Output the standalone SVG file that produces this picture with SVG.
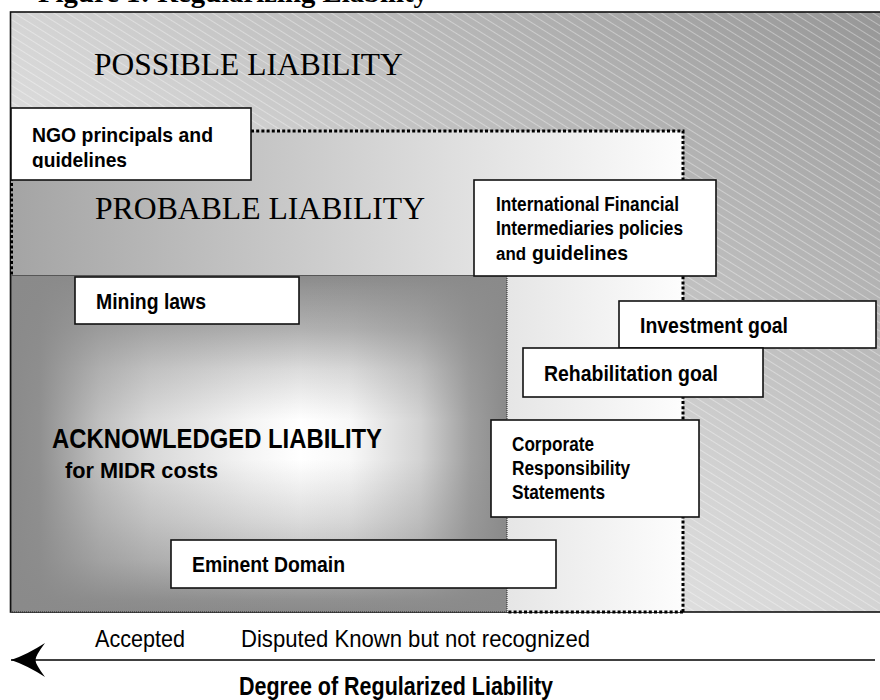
<svg xmlns="http://www.w3.org/2000/svg" width="880" height="700" viewBox="0 0 880 700">
  <defs>
    <linearGradient id="gOuter" x1="1" y1="0" x2="0" y2="1">
      <stop offset="0" stop-color="#969696"/>
      <stop offset="0.5" stop-color="#d4d4d4"/>
      <stop offset="1" stop-color="#ffffff"/>
    </linearGradient>
    <pattern id="hatch" width="7" height="7" patternUnits="userSpaceOnUse" patternTransform="rotate(32)">
      <line x1="0" y1="3.5" x2="7" y2="3.5" stroke="#ffffff" stroke-opacity="0.45" stroke-width="0.8"/>
    </pattern>
    <linearGradient id="gProb" gradientUnits="userSpaceOnUse" x1="11" y1="0" x2="683" y2="0">
      <stop offset="0" stop-color="#a4a4a4"/>
      <stop offset="1" stop-color="#fdfdfd"/>
    </linearGradient>
    <linearGradient id="gAckV" gradientUnits="userSpaceOnUse" x1="0" y1="275" x2="0" y2="612">
      <stop offset="0" stop-color="#8a8a8a"/>
      <stop offset="0.045" stop-color="#969696"/>
      <stop offset="0.163" stop-color="#b1b1b1"/>
      <stop offset="0.282" stop-color="#dcdcdc"/>
      <stop offset="0.43" stop-color="#ffffff"/>
      <stop offset="0.55" stop-color="#ffffff"/>
      <stop offset="0.727" stop-color="#dcdcdc"/>
      <stop offset="0.846" stop-color="#bfbfbf"/>
      <stop offset="0.964" stop-color="#909090"/>
      <stop offset="1" stop-color="#8a8a8a"/>
    </linearGradient>
    <linearGradient id="gAckH" gradientUnits="userSpaceOnUse" x1="11" y1="0" x2="507" y2="0">
      <stop offset="0" stop-color="#8a8a8a" stop-opacity="1"/>
      <stop offset="0.058" stop-color="#8a8a8a" stop-opacity="0.95"/>
      <stop offset="0.179" stop-color="#8a8a8a" stop-opacity="0.55"/>
      <stop offset="0.28" stop-color="#8a8a8a" stop-opacity="0.33"/>
      <stop offset="0.482" stop-color="#8a8a8a" stop-opacity="0.09"/>
      <stop offset="0.583" stop-color="#8a8a8a" stop-opacity="0"/>
      <stop offset="0.683" stop-color="#8a8a8a" stop-opacity="0.06"/>
      <stop offset="0.825" stop-color="#8a8a8a" stop-opacity="0.38"/>
      <stop offset="0.925" stop-color="#8a8a8a" stop-opacity="0.82"/>
      <stop offset="1" stop-color="#8a8a8a" stop-opacity="1"/>
    </linearGradient>
    <clipPath id="ngoClip"><rect x="11" y="108" width="240" height="60"/></clipPath>
    <marker id="arrowHead" markerUnits="userSpaceOnUse" markerWidth="34" markerHeight="34" viewBox="0 0 32 32" refX="32" refY="16" orient="auto">
      <path d="M32,16 Q17,11 0,0 Q9,12 9,16 Q9,20 0,32 Q17,21 32,16 Z" fill="#000"/>
    </marker>
    <style>
      .box { fill: #ffffff; stroke: #111111; stroke-width: 1.6; }
      .lbl { font-family: "Liberation Sans Narrow", "Liberation Sans", Arial, sans-serif; font-weight: bold; fill: #000; }
      .axis { font-family: "Liberation Sans Narrow", "Liberation Sans", Arial, sans-serif; fill: #000; }
      .zone { font-family: "Liberation Serif", "Times New Roman", serif; fill: #000; }
      .thickdot { fill: none; stroke: #000; stroke-width: 3; stroke-dasharray: 3 2.2; }
      .thindot { fill: none; stroke: #222; stroke-width: 1; stroke-dasharray: 1 1; }
    </style>
  </defs>

  <rect width="880" height="700" fill="#ffffff"/>

  <text x="38" y="2" class="zone" font-weight="bold" font-size="28" textLength="390" lengthAdjust="spacingAndGlyphs">Figure 1: Regularizing Liability</text>

  <g id="possible-liability">
    <rect x="10.5" y="12" width="875" height="600" fill="url(#gOuter)"/>
    <rect x="10.5" y="12" width="875" height="600" fill="url(#hatch)" stroke="#111" stroke-width="1.6"/>
    <text x="94" y="75" class="zone" font-size="31.5">POSSIBLE LIABILITY</text>
  </g>

  <g id="probable-liability">
    <rect x="11" y="131" width="672" height="481" fill="url(#gProb)"/>
    <path class="thickdot" d="M251,131 H683 V612 M683,612 H507 M11.5,131 V275"/>
    <text x="95" y="219" class="zone" font-size="31.7">PROBABLE LIABILITY</text>
  </g>

  <g id="acknowledged-liability">
    <rect x="11" y="275" width="496" height="337" fill="url(#gAckV)"/>
    <rect x="11" y="275" width="496" height="337" fill="url(#gAckH)"/>
    <rect x="11.5" y="275.5" width="495.5" height="336.5" class="thindot"/>
    <text x="52" y="448" class="lbl" font-size="28.5" textLength="330" lengthAdjust="spacingAndGlyphs">ACKNOWLEDGED LIABILITY</text>
    <text x="65" y="478" class="lbl" font-size="22" textLength="153" lengthAdjust="spacingAndGlyphs">for MIDR costs</text>
  </g>

  <g id="ngo">
    <rect x="11" y="108" width="240" height="72" class="box"/>
    <g clip-path="url(#ngoClip)">
      <text x="32" y="142" class="lbl" font-size="21" textLength="181" lengthAdjust="spacingAndGlyphs">NGO principals and</text>
      <text x="32" y="167" class="lbl" font-size="21" textLength="95" lengthAdjust="spacingAndGlyphs">guidelines</text>
    </g>
  </g>

  <g id="ifi">
    <rect x="474" y="180" width="242" height="96" class="box"/>
    <text x="496" y="211" class="lbl" font-size="20" textLength="183" lengthAdjust="spacingAndGlyphs">International Financial</text>
    <text x="496" y="235" class="lbl" font-size="20" textLength="187" lengthAdjust="spacingAndGlyphs">Intermediaries policies</text>
    <text x="496" y="260" class="lbl" font-size="18" textLength="30" lengthAdjust="spacingAndGlyphs">and</text>
    <text x="532" y="260" class="lbl" font-size="21" textLength="96" lengthAdjust="spacingAndGlyphs">guidelines</text>
  </g>

  <g id="mining-laws">
    <rect x="75" y="277" width="224" height="47" class="box"/>
    <text x="96" y="309" class="lbl" font-size="22.5" textLength="110" lengthAdjust="spacingAndGlyphs">Mining laws</text>
  </g>

  <g id="investment-goal">
    <rect x="619" y="301" width="257" height="47" class="box"/>
    <text x="640" y="333" class="lbl" font-size="22.5" textLength="148" lengthAdjust="spacingAndGlyphs">Investment goal</text>
  </g>

  <g id="rehabilitation-goal">
    <rect x="523" y="348" width="240" height="49" class="box"/>
    <text x="544" y="381" class="lbl" font-size="22.5" textLength="174" lengthAdjust="spacingAndGlyphs">Rehabilitation goal</text>
  </g>

  <g id="corporate-responsibility">
    <rect x="491" y="420" width="208" height="97" class="box"/>
    <text x="512" y="451" class="lbl" font-size="19.5" textLength="82" lengthAdjust="spacingAndGlyphs">Corporate</text>
    <text x="512" y="475" class="lbl" font-size="19.5" textLength="118" lengthAdjust="spacingAndGlyphs">Responsibility</text>
    <text x="512" y="499" class="lbl" font-size="19.5" textLength="93" lengthAdjust="spacingAndGlyphs">Statements</text>
  </g>

  <g id="eminent-domain">
    <rect x="171" y="540" width="385" height="48" class="box"/>
    <text x="192" y="572" class="lbl" font-size="21.5" textLength="153" lengthAdjust="spacingAndGlyphs">Eminent Domain</text>
  </g>

  <g id="connectors">
    <line x1="875" y1="660" x2="11" y2="660" stroke="#000" stroke-width="1.5" marker-end="url(#arrowHead)"/>
  </g>

  <g id="axis-labels">
    <text x="95" y="647" class="axis" font-size="24.5" textLength="90" lengthAdjust="spacingAndGlyphs">Accepted</text>
    <text x="241" y="647" class="axis" font-size="24.5" textLength="349" lengthAdjust="spacingAndGlyphs">Disputed  Known but not recognized</text>
    <text x="239" y="695" class="lbl" font-size="25" textLength="314" lengthAdjust="spacingAndGlyphs">Degree of Regularized Liability</text>
  </g>
</svg>
